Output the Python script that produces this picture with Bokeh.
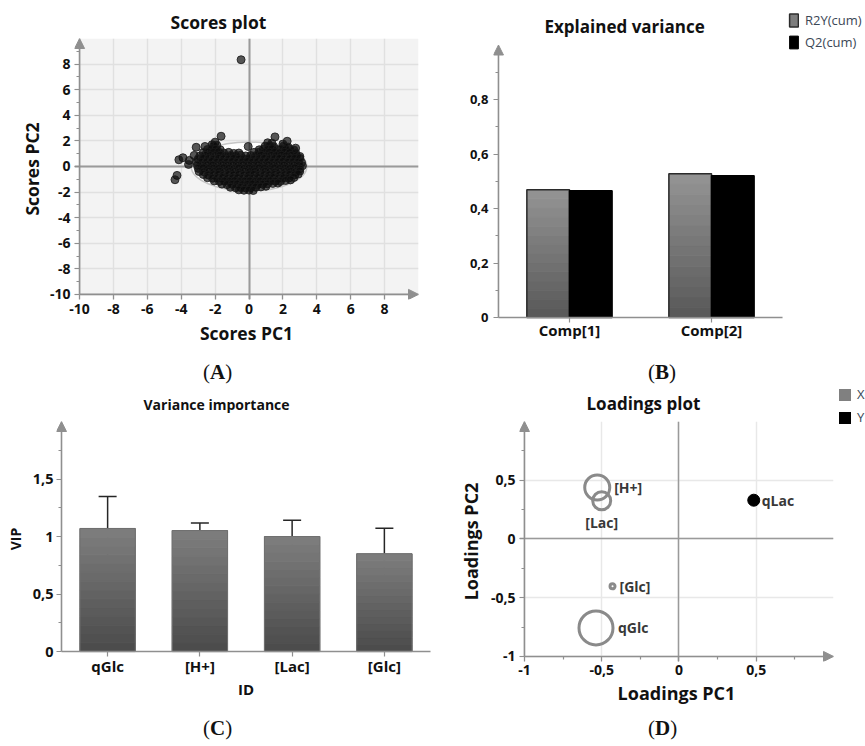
from bokeh.plotting import figure
from bokeh.layouts import column, row
from bokeh.models import (Range1d, FactorRange, FixedTicker, Arrow, NormalHead, TeeHead,
                          Whisker, ColumnDataSource, Legend, LegendItem, BoxAnnotation, Div)
from bokeh.transform import dodge
from bokeh.embed import file_html
from bokeh.resources import INLINE

# ------------------------------------------------------------------ data
# (A) Scores plot: isolated observations
outlier_pc1 = [-0.47, -1.65, 1.53, 2.25, 2.0, 2.75, -3.12, -2.6, -3.9, -4.14, -3.53, -3.24,
               -3.57, -4.25, -4.37, -2.0, -2.18]
outlier_pc2 = [8.34, 2.36, 2.31, 1.97, 1.75, 1.43, 1.5, 1.56, 0.68, 0.52, 0.47, 0.86,
               0.16, -0.7, -1.04, 1.9, 1.7]
# (A) Scores plot: the dense cluster (read as a field of overlapping points)
cluster_points = [
    (1.1, 1.85), (1.35, 1.82),
    (-2.1, 1.6), (-1.9, 1.65), (-0.05, 1.56), (0.95, 1.58), (1.2, 1.62), (1.45, 1.55), (2.05, 1.6), (2.3, 1.52),
    (-2.45, 1.33), (-2.2, 1.38), (-1.95, 1.35), (-1.7, 1.3), (0.6, 1.3), (0.85, 1.36), (1.1, 1.33), (1.35, 1.38),
    (1.65, 1.32), (1.9, 1.36), (2.15, 1.3), (2.4, 1.34), (2.65, 1.28),
    (-2.7, 1.08), (-2.4, 1.12), (-2.1, 1.1), (-1.8, 1.14), (-1.5, 1.06), (-1.2, 1.1), (-0.9, 1.02), (-0.6, 1.05),
    (0.3, 1.1), (0.6, 1.12), (0.9, 1.08), (1.2, 1.12), (1.5, 1.1), (1.8, 1.06), (2.1, 1.1), (2.4, 1.08), (2.75, 1.05),
    (-2.9, 0.82), (-2.6, 0.88), (-2.3, 0.85), (-2.0, 0.84), (-1.7, 0.88), (-1.4, 0.82), (-1.1, 0.86), (-0.8, 0.84),
    (-0.5, 0.88), (-0.2, 0.82), (0.1, 0.86), (0.4, 0.85), (0.7, 0.88), (1.0, 0.82), (1.3, 0.86), (1.6, 0.84),
    (1.9, 0.88), (2.2, 0.82), (2.5, 0.86), (2.8, 0.84), (3.0, 0.78),
    (-3.0, 0.58), (-2.7, 0.62), (-2.4, 0.6), (-2.1, 0.56), (-1.8, 0.62), (-1.5, 0.6), (-1.2, 0.58), (-0.9, 0.62),
    (-0.6, 0.58), (-0.3, 0.6), (0.0, 0.62), (0.3, 0.58), (0.6, 0.6), (0.9, 0.62), (1.2, 0.58), (1.5, 0.6),
    (1.8, 0.62), (2.1, 0.58), (2.4, 0.6), (2.7, 0.62), (3.0, 0.64),
    (-3.1, 0.36), (-2.8, 0.32), (-2.5, 0.35), (-2.2, 0.38), (-1.9, 0.33), (-1.6, 0.36), (-1.3, 0.34), (-1.0, 0.37),
    (-0.7, 0.32), (-0.4, 0.35), (-0.1, 0.38), (0.2, 0.33), (0.5, 0.36), (0.8, 0.34), (1.1, 0.37), (1.4, 0.32),
    (1.7, 0.35), (2.0, 0.38), (2.3, 0.33), (2.6, 0.36), (2.9, 0.34), (3.1, 0.3),
    (-3.05, 0.1), (-2.75, 0.08), (-2.45, 0.12), (-2.15, 0.1), (-1.85, 0.07), (-1.55, 0.12), (-1.25, 0.09),
    (-0.95, 0.11), (-0.65, 0.08), (-0.35, 0.12), (-0.05, 0.1), (0.25, 0.08), (0.55, 0.12), (0.85, 0.09),
    (1.15, 0.11), (1.45, 0.08), (1.75, 0.12), (2.05, 0.1), (2.35, 0.07), (2.65, 0.11), (2.95, 0.09), (3.15, 0.05),
    (-3.0, -0.15), (-2.7, -0.12), (-2.4, -0.17), (-2.1, -0.14), (-1.8, -0.16), (-1.5, -0.12), (-1.2, -0.15),
    (-0.9, -0.18), (-0.6, -0.13), (-0.3, -0.16), (0.0, -0.14), (0.3, -0.17), (0.6, -0.12), (0.9, -0.15),
    (1.2, -0.18), (1.5, -0.13), (1.8, -0.16), (2.1, -0.14), (2.4, -0.17), (2.7, -0.12), (3.0, -0.2),
    (-2.95, -0.4), (-2.65, -0.42), (-2.35, -0.38), (-2.05, -0.41), (-1.75, -0.37), (-1.45, -0.42), (-1.15, -0.39),
    (-0.85, -0.4), (-0.55, -0.43), (-0.25, -0.38), (0.05, -0.41), (0.35, -0.39), (0.65, -0.42), (0.95, -0.38),
    (1.25, -0.4), (1.55, -0.43), (1.85, -0.39), (2.15, -0.41), (2.45, -0.38), (2.75, -0.42), (3.0, -0.36),
    (-2.7, -0.63), (-2.4, -0.67), (-2.1, -0.65), (-1.8, -0.62), (-1.5, -0.68), (-1.2, -0.64), (-0.9, -0.66),
    (-0.6, -0.63), (-0.3, -0.67), (0.0, -0.65), (0.3, -0.62), (0.6, -0.68), (0.9, -0.64), (1.2, -0.66),
    (1.5, -0.63), (1.8, -0.67), (2.1, -0.65), (2.4, -0.62), (2.7, -0.66), (2.9, -0.6),
    (-2.45, -0.88), (-2.15, -0.92), (-1.85, -0.9), (-1.55, -0.87), (-1.25, -0.93), (-0.95, -0.9), (-0.65, -0.88),
    (-0.35, -0.92), (-0.05, -0.89), (0.25, -0.91), (0.55, -0.88), (0.85, -0.93), (1.15, -0.9), (1.45, -0.87),
    (1.75, -0.92), (2.05, -0.89), (2.35, -0.91), (2.65, -0.86),
    (-2.05, -1.13), (-1.75, -1.17), (-1.45, -1.14), (-1.15, -1.16), (-0.85, -1.12), (-0.55, -1.18), (-0.25, -1.15),
    (0.05, -1.13), (0.35, -1.17), (0.65, -1.14), (0.95, -1.16), (1.25, -1.12), (1.55, -1.15), (1.85, -1.17),
    (2.15, -1.1), (2.45, -1.05),
    (-1.6, -1.38), (-1.3, -1.42), (-1.0, -1.4), (-0.7, -1.37), (-0.4, -1.43), (-0.1, -1.4), (0.2, -1.38),
    (0.5, -1.42), (0.8, -1.39), (1.1, -1.36), (1.4, -1.33), (1.7, -1.3),
    (-1.1, -1.63), (-0.8, -1.67), (-0.5, -1.64), (-0.2, -1.68), (0.1, -1.66), (0.4, -1.62), (0.7, -1.6), (1.0, -1.55),
    (-0.6, -1.83), (-0.3, -1.86), (0.0, -1.85), (0.25, -1.88),
]
cluster_pc1 = [p[0] for p in cluster_points]
cluster_pc2 = [p[1] for p in cluster_points]
hotelling_center = [0.0, 0.0]
hotelling_axes = [6.82, 3.82]   # full width / height of the T2 ellipse
scores_lim = [-10, 10]
scores_ticks = [-10, -8, -6, -4, -2, 0, 2, 4, 6, 8]
scores_minor = [-9, -7, -5, -3, -1, 1, 3, 5, 7, 9]

# (B) Explained variance
components = ["Comp[1]", "Comp[2]"]
r2y_cum = [0.469, 0.528]
q2_cum = [0.465, 0.520]
ev_lim = [0, 1.0]
ev_ticks = [0, 0.2, 0.4, 0.6, 0.8]
ev_minor = [0.1, 0.3, 0.5, 0.7, 0.9]

# (C) Variance importance
vip_ids = ["qGlc", "[H+]", "[Lac]", "[Glc]"]
vip = [1.07, 1.052, 1.0, 0.85]
vip_upper = [1.347, 1.118, 1.142, 1.073]
vip_lower = [0.807, 1.003, 0.88, 0.646]
vip_lim = [0, 2]
vip_ticks = [0, 0.5, 1, 1.5]
vip_minor = [0.25, 0.75, 1.25, 1.75]

# (D) Loadings plot
load_x_names = ["[H+]", "[Lac]", "[Glc]", "qGlc"]
load_x_pc1 = [-0.529, -0.50, -0.43, -0.537]
load_x_pc2 = [0.438, 0.325, -0.403, -0.757]
load_y_names = ["qLac"]
load_y_pc1 = [0.484]
load_y_pc2 = [0.33]
load_lim = [-1, 1]
load_ticks = [-1, -0.5, 0, 0.5]
load_minor = [-0.75, -0.25, 0.25, 0.75]
zero_line = [0]
nothing = [float("nan")]          # legend-only proxies draw no mark

# ------------------------------------------------------------------ style
FONT = "Open Sans"
AXC = "#8f8f8f"
TXT = "#111111"


def comma(v):
    return ("%g" % v).replace(".", ",")


def make_fig(title, t_size, t_offset, t_standoff, tick_size, label_size, **kw):
    p = figure(output_backend="svg", toolbar_location=None, title=title, **kw)
    p.outline_line_color = None
    p.title.text_font = FONT
    p.title.text_font_style = "bold"
    p.title.text_font_size = t_size
    p.title.text_color = TXT
    p.title.align = "left"
    p.title.vertical_align = "middle"
    p.title.offset = t_offset
    p.title.standoff = t_standoff
    for ax in p.axis:
        ax.axis_line_color = None
        ax.major_tick_line_color = AXC
        ax.minor_tick_line_color = AXC
        ax.major_tick_line_width = 1.2
        ax.minor_tick_line_width = 1.2
        ax.major_tick_out = 0
        ax.major_tick_in = 5
        ax.minor_tick_out = -2
        ax.minor_tick_in = 5
        ax.major_label_text_font = FONT
        ax.major_label_text_font_style = "bold"
        ax.major_label_text_font_size = tick_size
        ax.major_label_text_color = TXT
        ax.axis_label_text_font = FONT
        ax.axis_label_text_font_style = "bold"
        ax.axis_label_text_font_size = label_size
        ax.axis_label_text_color = TXT
    return p


def numeric_ticks(ax, ticks, minor):
    ax.ticker = FixedTicker(ticks=ticks, minor_ticks=minor)
    ax.major_label_overrides = {t: comma(t) for t in ticks}


def axis_line(p, xs, ys, xe, ye, head=True):
    end = NormalHead(size=10, fill_color=AXC, line_color=AXC) if head else None
    p.add_layout(Arrow(end=end, x_start=xs, y_start=ys, x_end=xe, y_end=ye,
                       line_color=AXC, line_width=1.6))


def gradient(cats, values, n, top_rgb, bottom_rgb):
    data = dict(cat=[], bottom=[], top=[], color=[])
    for c, v in zip(cats, values):
        for k in range(n):
            f = (k + 0.5) / n
            rgb = [int(round(b + (t - b) * f)) for t, b in zip(top_rgb, bottom_rgb)]
            data["cat"].append(c)
            data["bottom"].append(v * k / n)
            data["top"].append(v * (k + 1) / n)
            data["color"].append("#%02x%02x%02x" % tuple(rgb))
    return ColumnDataSource(data)


def letter(txt, width, height, line, indent, shift):
    return Div(text="(<b>%s</b>)" % txt, width=width, height=height, margin=0,
               styles={"font-family": "Liberation Serif", "font-size": "21px", "color": TXT,
                       "line-height": "%dpx" % line, "text-indent": "%dpx" % indent,
                       "position": "relative", "top": "%dpx" % shift, "white-space": "nowrap"})


# ------------------------------------------------------------------ (A) scores
pA = make_fig("Scores plot", "17.5px", 96, 7, "14px", "17.5px",
              frame_width=344, frame_height=261,
              x_range=Range1d(scores_lim[0] - 0.3, scores_lim[1]),
              y_range=Range1d(scores_lim[0] - 0.4, scores_lim[1]),
              min_border_left=74, min_border_right=12, min_border_top=38, min_border_bottom=53,
              x_axis_label="Scores PC1", y_axis_label="Scores PC2")
numeric_ticks(pA.xaxis[0], scores_ticks, [])
numeric_ticks(pA.yaxis[0], scores_ticks, scores_minor)
pA.xaxis.major_label_standoff = 4
pA.xaxis.axis_label_standoff = 4
pA.yaxis.major_label_standoff = 4
pA.yaxis.axis_label_standoff = 3
for g in (pA.xgrid, pA.ygrid):
    g.grid_line_color = "#e0e0e0"
    g.grid_line_width = 1.5
pA.center.insert(0, BoxAnnotation(left=scores_lim[0], bottom=scores_lim[0], fill_color="#f3f3f3",
                                  fill_alpha=1, line_color=None, level="underlay"))
pA.ellipse(x=[hotelling_center[0]], y=[hotelling_center[1]],
           width=[hotelling_axes[0]], height=[hotelling_axes[1]],
           fill_color="white", line_color="#c6c6c6", line_width=1.5)
pA.hspan(y=zero_line, line_color="#9a9a9a", line_width=2)
pA.vspan(x=zero_line, line_color="#9a9a9a", line_width=2)
pt_style = dict(size=8, fill_color="#0a0a0a", fill_alpha=0.68,
                line_color="#1c1c1c", line_alpha=0.85, line_width=1)
pA.scatter(outlier_pc1, outlier_pc2, **pt_style)
pA.scatter(cluster_pc1, cluster_pc2, **pt_style)
axis_line(pA, scores_lim[0], scores_lim[0], scores_lim[1], scores_lim[0])
axis_line(pA, scores_lim[0], scores_lim[0], scores_lim[0], scores_lim[1])

# ------------------------------------------------------------------ (B) explained variance
pB = make_fig("Explained variance", "17px", 51, 0, "13px", "15px",
              frame_width=294, frame_height=284,
              x_range=FactorRange(*components, range_padding=0.035),
              y_range=Range1d(ev_lim[0] - 0.0183, ev_lim[1] + 0.0239),
              min_border_left=63, min_border_right=78, min_border_top=38, min_border_bottom=30)
pB.grid.grid_line_color = None
numeric_ticks(pB.yaxis[0], ev_ticks, ev_minor)
pB.yaxis.major_label_standoff = 5
pB.xaxis.major_label_standoff = -3
pB.xaxis.major_label_text_font_size = "15px"
src_r2 = gradient(components, r2y_cum, 14, (0x94, 0x94, 0x94), (0x58, 0x58, 0x58))
pB.vbar(x=dodge("cat", -0.15, range=pB.x_range), bottom="bottom", top="top", width=0.3,
        fill_color="color", line_color="color", line_width=1, source=src_r2)
pB.vbar(x=dodge("cat", -0.15, range=pB.x_range), top="top", width=0.3,
        source=ColumnDataSource(dict(cat=components, top=r2y_cum)),
        fill_color=None, line_color="#2b2b2b", line_width=1.5)
pB.vbar(x=dodge("cat", 0.15, range=pB.x_range), top="top", width=0.3,
        source=ColumnDataSource(dict(cat=components, top=q2_cum)),
        fill_color="black", line_color="black", line_width=1.5)
axis_line(pB, 0, ev_lim[0], len(components), ev_lim[0], head=False)
axis_line(pB, 0, ev_lim[0], 0, ev_lim[1])
leg_r2 = pB.quad(left=nothing, right=nothing, bottom=nothing, top=nothing, fill_color="#7e7e7e",
                 line_color="#2b2b2b", line_width=1.5)
leg_q2 = pB.quad(left=nothing, right=nothing, bottom=nothing, top=nothing,
                 fill_color="black", line_color="black")
legB = Legend(items=[LegendItem(label="R2Y(cum)", renderers=[leg_r2]),
                     LegendItem(label="Q2(cum)", renderers=[leg_q2])],
              location=(1, 271), glyph_width=11, glyph_height=16, label_height=16,
              spacing=4, padding=0, margin=0, label_standoff=6,
              label_text_font=FONT, label_text_font_size="13px", label_text_color="#3b4756",
              border_line_alpha=0, background_fill_alpha=0)
pB.add_layout(legB, "right")

# ------------------------------------------------------------------ (C) VIP
pC = make_fig("Variance importance", "14px", 87, 14, "14.5px", "14px",
              frame_width=379, frame_height=235,
              x_range=FactorRange(*vip_ids, range_padding=0.0271),
              y_range=Range1d(vip_lim[0] - 0.043, vip_lim[1]),
              min_border_left=56, min_border_right=0, min_border_top=36, min_border_bottom=51,
              x_axis_label="ID", y_axis_label="VIP")
pC.grid.grid_line_color = None
numeric_ticks(pC.yaxis[0], vip_ticks, vip_minor)
pC.yaxis.major_label_standoff = 3
pC.yaxis.axis_label_standoff = 5
pC.xaxis.major_label_standoff = -1
pC.xaxis.axis_label_standoff = 0
pC.xaxis.major_label_text_font_size = "15px"
pC.xaxis.axis_label_text_font_size = "15px"
src_vip = gradient(vip_ids, vip, 14, (0x7e, 0x7e, 0x7e), (0x4a, 0x4a, 0x4a))
pC.vbar(x="cat", bottom="bottom", top="top", width=0.6, fill_color="color",
        line_color="color", line_width=1, source=src_vip)
pC.vbar(x="cat", top="top", width=0.6, fill_color=None, line_color="#707070", line_width=1,
        source=ColumnDataSource(dict(cat=vip_ids, top=vip)))
err_src = ColumnDataSource(dict(cat=vip_ids, upper=vip_upper, lower=vip_lower))
pC.add_layout(Whisker(base="cat", upper="upper", lower="lower", source=err_src,
                      line_color="#262626", line_width=1.5,
                      upper_head=TeeHead(size=18, line_color="#262626", line_width=1.5),
                      lower_head=TeeHead(size=18, line_color="#262626", line_width=1.5)))
axis_line(pC, 0, vip_lim[0], len(vip_ids), vip_lim[0], head=False)
axis_line(pC, 0, vip_lim[0], 0, vip_lim[1])

# ------------------------------------------------------------------ (D) loadings
pD = make_fig("Loadings plot", "17px", 67, 11.5, "14px", "18px",
              frame_width=314, frame_height=240,
              x_range=Range1d(load_lim[0] - 0.032, load_lim[1]),
              y_range=Range1d(load_lim[0] - 0.043, load_lim[1]),
              min_border_left=84, min_border_right=32, min_border_top=36, min_border_bottom=46,
              x_axis_label="Loadings PC1", y_axis_label="Loadings PC2")
numeric_ticks(pD.xaxis[0], load_ticks, load_minor)
numeric_ticks(pD.yaxis[0], load_ticks, load_minor)
pD.xaxis.major_label_standoff = 3
pD.xaxis.axis_label_standoff = 3
pD.yaxis.major_label_standoff = 4
pD.yaxis.axis_label_standoff = 5
for g in (pD.xgrid, pD.ygrid):
    g.grid_line_color = "#e8e8e8"
    g.grid_line_width = 1.5
pD.hspan(y=zero_line, line_color="#9a9a9a", line_width=1.5)
pD.vspan(x=zero_line, line_color="#9a9a9a", line_width=1.5)
srcX = ColumnDataSource(dict(x=load_x_pc1, y=load_x_pc2, name=load_x_names,
                             size=[25, 18, 5, 34],
                             xoff=[17, 0, 7, 22], yoff=[0, 22, 0, 0],
                             align=["left", "center", "left", "left"]))
pD.scatter("x", "y", size="size", source=srcX, fill_color=None, line_color="#8a8a8a", line_width=3)
srcY = ColumnDataSource(dict(x=load_y_pc1, y=load_y_pc2, name=load_y_names,
                             xoff=[8], yoff=[0], align=["left"]))
pD.scatter("x", "y", size=12, source=srcY, fill_color="black", line_color="black")
for s in (srcX, srcY):
    pD.text("x", "y", text="name", x_offset="xoff", y_offset="yoff", text_align="align",
            text_baseline="middle", source=s, text_font_size="14px", text_font_style="bold",
            text_color="#383838", text_font={"value": FONT})
axis_line(pD, load_lim[0], load_lim[0], load_lim[1], load_lim[0])
axis_line(pD, load_lim[0], load_lim[0], load_lim[0], load_lim[1])
leg_x = pD.quad(left=nothing, right=nothing, bottom=nothing, top=nothing,
                fill_color="#808080", line_color=None)
leg_y = pD.quad(left=nothing, right=nothing, bottom=nothing, top=nothing,
                fill_color="black", line_color=None)
legD = Legend(items=[LegendItem(label="X", renderers=[leg_x]),
                     LegendItem(label="Y", renderers=[leg_y])],
              location=(4, 235), glyph_width=15, glyph_height=15, label_height=15,
              spacing=5, padding=0, margin=0, label_standoff=5,
              label_text_font=FONT, label_text_font_size="13px", label_text_color="#3b4756",
              border_line_alpha=0, background_fill_alpha=0)
pD.add_layout(legD, "right")

layout = column(row(pA, pB),
                row(letter("A", 430, 32, 32, 203, 4), letter("B", 435, 32, 32, 218, 4)),
                row(pC, pD),
                row(letter("C", 435, 36, 30, 203, 6), letter("D", 430, 36, 30, 213, 6)))
open("out.html", "w").write(file_html(layout, INLINE))
